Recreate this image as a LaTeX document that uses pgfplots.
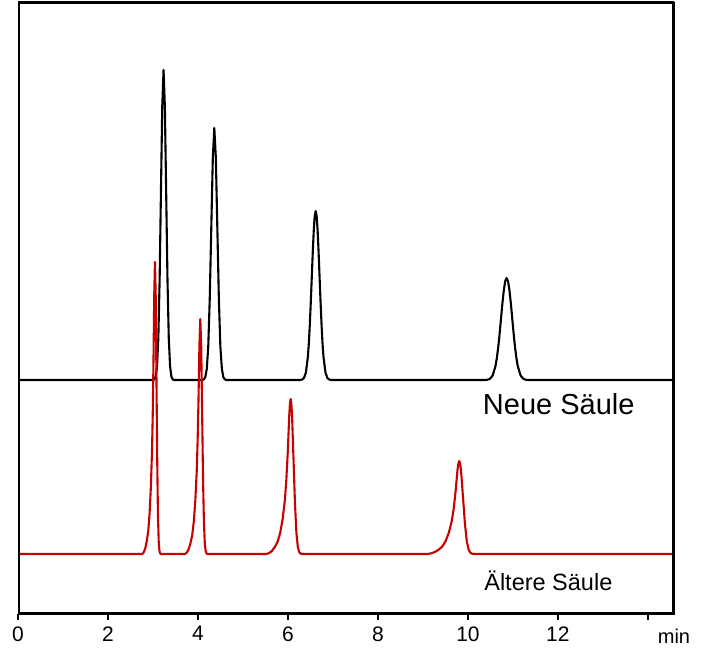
\documentclass[border=0pt]{standalone}
\usepackage{fontspec}
\setmainfont{Liberation Sans}
\usepackage{pgfplots}
\pgfplotsset{compat=1.18}
\definecolor{oldred}{RGB}{200,0,0}
\begin{document}
\begin{tikzpicture}
\useasboundingbox (-18pt,-45pt) rectangle (685pt,614pt);
\begin{axis}[
  scale only axis, width=656pt, height=612pt,
  xmin=0, xmax=14.58, ymin=0, ymax=612,
  ytick=\empty,
  xtick={0,2,4,6,8,10,12,14},
  xticklabels={0,2,4,6,8,10,12,{}},
  xtick pos=bottom,
  tick align=outside,
  major tick length=6pt,
  tick style={line width=1.3pt, black},
  x tick label style={font=\fontsize{21}{21}\selectfont, yshift=-3pt},
  /pgf/number format/assume math mode=true,
  every axis plot/.append style={line join=round, line cap=round},
]
% black: Neue Saeule
\addplot[black, line width=2.1pt] coordinates {
(0,234) (3.003,234)
(3.032,234.7) (3.061,237.4) (3.090,247.6) (3.119,275.9) (3.148,334.7) (3.177,422.0) (3.206,507.6)
(3.235,544)
(3.264,507.6) (3.293,422.0) (3.322,334.7) (3.351,275.9) (3.380,247.6) (3.409,237.4) (3.438,234.7)
(3.467,234)
(4.095,234)
(4.128,234.6) (4.162,236.8) (4.196,245.1) (4.229,268.1) (4.262,315.8) (4.296,386.8) (4.330,456.4)
(4.363,486)
(4.397,456.4) (4.430,386.8) (4.464,315.8) (4.497,268.1) (4.531,245.1) (4.564,236.8) (4.598,234.6)
(4.631,234)
(6.268,234)
(6.311,234.4) (6.355,235.9) (6.398,241.4) (6.442,256.9) (6.464,270.6) (6.485,288.9) (6.507,311.4)
(6.529,336.5) (6.551,361.6) (6.573,383.1) (6.594,397.8)
(6.616,403)
(6.638,397.8) (6.660,383.1) (6.681,361.6) (6.703,336.5) (6.725,311.4) (6.747,288.9) (6.768,270.6)
(6.790,256.9) (6.834,241.4) (6.877,235.9) (6.921,234.4)
(6.964,234)
(10.364,234)
(10.426,234.2) (10.488,235.1) (10.550,238.5) (10.612,247.8) (10.643,256.1) (10.674,267.1) (10.705,280.7)
(10.736,295.9) (10.767,311.0) (10.798,324.0) (10.829,332.9)
(10.860,336)
(10.891,332.9) (10.922,324.0) (10.953,311.0) (10.984,295.9) (11.015,280.7) (11.046,267.1) (11.077,256.1)
(11.108,247.8) (11.170,238.5) (11.232,235.1) (11.294,234.2)
(11.356,234)
(14.58,234)
};
% red: Aeltere Saeule
\addplot[oldred, line width=2.1pt] coordinates {
(0,60) (2.764,60)
(2.796,61.8) (2.829,65.8) (2.862,73.1) (2.896,83.4) (2.925,100.9) (2.953,127.2) (2.978,162.2)
(2.995,200.2) (3.011,252.7) (3.028,319.9)
(3.044,352)
(3.061,317.7) (3.077,237.1) (3.094,154.8) (3.110,99.5) (3.127,72.8) (3.143,63.2) (3.160,60.6)
(3.176,60)
(3.712,60)
(3.752,61.4) (3.792,64.7) (3.832,70.6) (3.872,78.8) (3.908,92.9) (3.942,114.1) (3.972,142.3)
(3.992,172.8) (4.012,215.1) (4.032,269.2)
(4.052,295)
(4.072,267.4) (4.092,202.5) (4.112,136.3) (4.132,91.8) (4.152,70.3) (4.172,62.6) (4.192,60.5)
(4.212,60)
(5.516,60)
(5.580,60.9) (5.644,63.1) (5.708,67.0) (5.772,72.4) (5.830,81.7) (5.884,95.7) (5.932,114.3)
(5.964,134.4) (5.996,162.3) (6.028,198.0) (6.044,210.4)
(6.060,215)
(6.076,210.2) (6.092,196.8) (6.124,154.0) (6.156,110.3) (6.188,81.0) (6.220,66.8) (6.252,61.7) (6.284,60.3)
(6.316,60)
(9.093,60)
(9.177,60.6) (9.261,61.9) (9.345,64.2) (9.429,67.4) (9.505,73.0) (9.576,81.4) (9.639,92.6)
(9.681,104.6) (9.723,121.4) (9.765,142.8) (9.786,150.2)
(9.807,153)
(9.828,150.1) (9.849,142.1) (9.891,116.4) (9.933,90.2) (9.975,72.6) (10.017,64.1) (10.059,61.0) (10.101,60.2)
(10.143,60)
(14.58,60)
};
\draw[line width=3.2pt, black] (rel axis cs:0,0) rectangle (rel axis cs:1,1);
\node[anchor=base west, inner sep=0pt, font=\fontsize{29}{29}\selectfont] at (axis cs:10.33,200) {Neue Säule};
\node[anchor=base west, inner sep=0pt, font=\fontsize{23.5}{23.5}\selectfont] at (axis cs:10.36,24) {Ältere Säule};
\end{axis}
\node[anchor=base, font=\fontsize{20}{20}\selectfont] at (656pt,-29pt) {min};
\end{tikzpicture}
\end{document}
